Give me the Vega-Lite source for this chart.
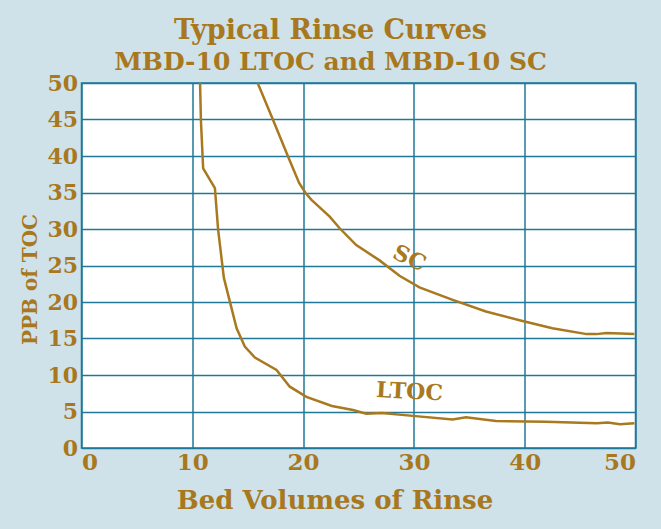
{
  "$schema": "https://vega.github.io/schema/vega-lite/v6.json",
  "width": 554,
  "height": 365,
  "autosize": "none",
  "padding": {"left": 81.5, "top": 83, "right": 25.5, "bottom": 81},
  "background": "#cfe2ea",
  "title": {
    "text": "Typical Rinse Curves",
    "subtitle": "MBD-10 LTOC and MBD-10 SC",
    "font": "DejaVu Serif",
    "fontWeight": "bold",
    "fontSize": 27,
    "color": "#a8781e",
    "subtitleFont": "DejaVu Serif",
    "subtitleFontWeight": "bold",
    "subtitleFontSize": 25,
    "subtitleColor": "#a8781e",
    "subtitlePadding": 5,
    "anchor": "middle",
    "dx": -28,
    "offset": -4
  },
  "datasets": {
    "curves": [
      {"series": "LTOC", "bv": 10.7, "ppb": 50},
      {"series": "LTOC", "bv": 10.78, "ppb": 44.8},
      {"series": "LTOC", "bv": 10.98, "ppb": 38.3},
      {"series": "LTOC", "bv": 12.04, "ppb": 35.6},
      {"series": "LTOC", "bv": 12.33, "ppb": 29.9},
      {"series": "LTOC", "bv": 12.85, "ppb": 23.3},
      {"series": "LTOC", "bv": 14.0, "ppb": 16.4},
      {"series": "LTOC", "bv": 14.74, "ppb": 13.9},
      {"series": "LTOC", "bv": 15.65, "ppb": 12.4},
      {"series": "LTOC", "bv": 17.6, "ppb": 10.7},
      {"series": "LTOC", "bv": 18.8, "ppb": 8.4},
      {"series": "LTOC", "bv": 20.3, "ppb": 7.0},
      {"series": "LTOC", "bv": 22.6, "ppb": 5.75},
      {"series": "LTOC", "bv": 24.5, "ppb": 5.2},
      {"series": "LTOC", "bv": 25.7, "ppb": 4.7},
      {"series": "LTOC", "bv": 27.1, "ppb": 4.8},
      {"series": "LTOC", "bv": 29.9, "ppb": 4.4},
      {"series": "LTOC", "bv": 33.5, "ppb": 3.9},
      {"series": "LTOC", "bv": 34.7, "ppb": 4.2},
      {"series": "LTOC", "bv": 37.4, "ppb": 3.7},
      {"series": "LTOC", "bv": 41.9, "ppb": 3.6},
      {"series": "LTOC", "bv": 46.5, "ppb": 3.4},
      {"series": "LTOC", "bv": 47.5, "ppb": 3.5},
      {"series": "LTOC", "bv": 48.6, "ppb": 3.25},
      {"series": "LTOC", "bv": 49.9, "ppb": 3.4},
      {"series": "SC", "bv": 15.9, "ppb": 50},
      {"series": "SC", "bv": 17.3, "ppb": 44.9},
      {"series": "SC", "bv": 18.65, "ppb": 39.9},
      {"series": "SC", "bv": 19.64, "ppb": 36.3},
      {"series": "SC", "bv": 20.24, "ppb": 34.9},
      {"series": "SC", "bv": 20.76, "ppb": 34.0},
      {"series": "SC", "bv": 22.4, "ppb": 31.7},
      {"series": "SC", "bv": 23.3, "ppb": 30.1},
      {"series": "SC", "bv": 24.8, "ppb": 27.8},
      {"series": "SC", "bv": 26.9, "ppb": 25.7},
      {"series": "SC", "bv": 28.7, "ppb": 23.6},
      {"series": "SC", "bv": 30.5, "ppb": 22.0},
      {"series": "SC", "bv": 33.5, "ppb": 20.3},
      {"series": "SC", "bv": 36.5, "ppb": 18.7},
      {"series": "SC", "bv": 39.8, "ppb": 17.4},
      {"series": "SC", "bv": 42.5, "ppb": 16.4},
      {"series": "SC", "bv": 45.6, "ppb": 15.6},
      {"series": "SC", "bv": 46.45, "ppb": 15.6},
      {"series": "SC", "bv": 47.4, "ppb": 15.75},
      {"series": "SC", "bv": 49.9, "ppb": 15.6}
    ],
    "labels": [
      {"label": "SC", "bv": 29.6, "ppb": 26.0, "angle": 25},
      {"label": "LTOC", "bv": 29.6, "ppb": 7.7, "angle": 3}
    ]
  },
  "layer": [
    {
      "data": {"name": "curves"},
      "mark": {"type": "line", "color": "#a8791f", "strokeWidth": 2.5, "clip": true},
      "encoding": {
        "x": {
          "field": "bv",
          "type": "quantitative",
          "scale": {"domain": [0, 50], "nice": false},
          "axis": {
            "title": "Bed Volumes of Rinse",
            "values": [0, 10, 20, 30, 40, 50],
            "titleX": 253,
            "titleY": 39,
            "titleBaseline": "top",
            "titleFontSize": 26,
            "labelFontSize": 23,
            "labelPadding": 3,
            "labelOverlap": false
          }
        },
        "y": {
          "field": "ppb",
          "type": "quantitative",
          "scale": {"domain": [0, 50], "nice": false},
          "axis": {
            "title": "PPB of TOC",
            "values": [0, 5, 10, 15, 20, 25, 30, 35, 40, 45, 50],
            "tickCount": 11,
            "titleX": -51,
            "titleY": 196,
            "titleAngle": -90,
            "titleAlign": "center",
            "titleBaseline": "middle",
            "titleFontSize": 20,
            "labelFontSize": 22,
            "labelPadding": 4,
            "labelOverlap": false
          }
        },
        "detail": {"field": "series", "type": "nominal"}
      }
    },
    {
      "data": {"name": "labels"},
      "mark": {
        "type": "text",
        "color": "#a8791f",
        "font": "DejaVu Serif",
        "fontWeight": "bold",
        "fontSize": 22,
        "align": "center",
        "baseline": "middle"
      },
      "encoding": {
        "x": {"field": "bv", "type": "quantitative"},
        "y": {"field": "ppb", "type": "quantitative"},
        "text": {"field": "label"},
        "angle": {"field": "angle", "type": "quantitative", "scale": null}
      }
    }
  ],
  "config": {
    "view": {"fill": "#ffffff", "stroke": "#1f7898", "strokeWidth": 1.5},
    "axis": {
      "grid": true,
      "gridColor": "#1f7898",
      "gridWidth": 1.5,
      "gridOpacity": 1,
      "domain": false,
      "ticks": false,
      "labelFont": "DejaVu Serif",
      "labelFontWeight": "bold",
      "labelColor": "#a8781e",
      "titleFont": "DejaVu Serif",
      "titleFontWeight": "bold",
      "titleColor": "#a8781e"
    }
  }
}
